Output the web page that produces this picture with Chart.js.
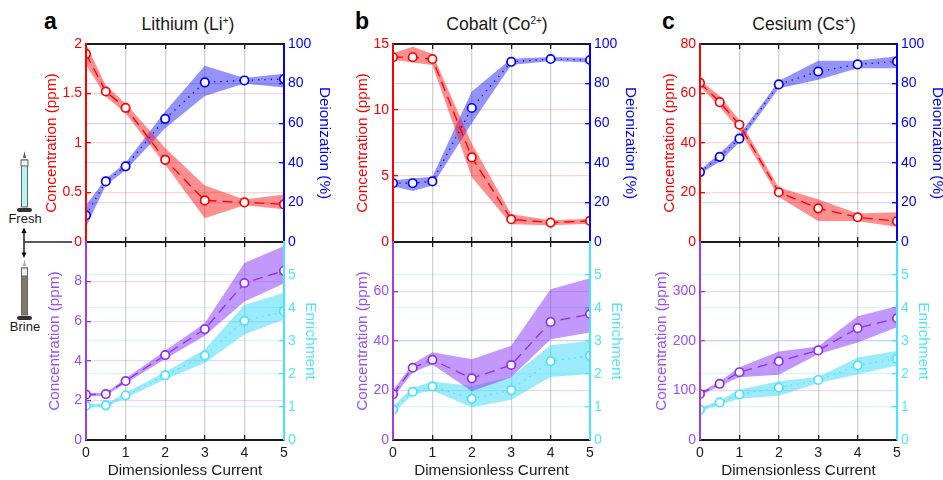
<!DOCTYPE html>
<html>
<head>
<meta charset="utf-8">
<script src="https://cdn.jsdelivr.net/npm/chart.js@4"></script>
<style>
  html, body { margin: 0; padding: 0; background: #fff; }
  body { position: relative; width: 943px; height: 480px; overflow: hidden; font-family: "Liberation Sans", Arial, sans-serif; color: #1a1a1a; }
  canvas { position: absolute; }
  .titulo { position: absolute; top: 12px; font-size: 17.6px; line-height: 24px; white-space: nowrap; transform: translateX(-50%); }
  .titulo sup { font-size: 10px; line-height: 0; vertical-align: 6px; }
  .letra { position: absolute; top: 6px; font-size: 23px; line-height: 30px; font-weight: bold; color: #000; }
  .rotulo { position: absolute; font-size: 13px; line-height: 16px; transform: translateX(-50%); }
  svg { position: absolute; left: 0; top: 150px; }
</style>
</head>
<body>
<div class="letra" style="left:44px">a</div>
<div class="letra" style="left:355px">b</div>
<div class="letra" style="left:662px">c</div>
<div class="titulo" style="left:188px">Lithium (Li<sup>+</sup>)</div>
<div class="titulo" style="left:497px">Cobalt (Co<sup>2+</sup>)</div>
<div class="titulo" style="left:804px">Cesium (Cs<sup>+</sup>)</div>
<div class="rotulo" style="left:25px;top:211px">Fresh</div>
<div class="rotulo" style="left:25px;top:319px">Brine</div>

<!-- provetas e setas do lado esquerdo -->
<svg width="80" height="180" viewBox="0 150 80 180">
  <path d="M24.5 151 L23 158 L26 158 Z" fill="#556"/>
  <rect x="21.5" y="160" width="6" height="47" fill="#b8f4f6" stroke="#666" stroke-width="1"/>
  <rect x="21" y="160" width="7" height="6" fill="#eee" stroke="#666" stroke-width="1"/>
  <rect x="17" y="208" width="15" height="4" rx="2" fill="#333"/>
  <path d="M24.5 259 L23 266 L26 266 Z" fill="#aaa"/>
  <rect x="21.5" y="268" width="6" height="47" fill="#827868" stroke="#666" stroke-width="1"/>
  <rect x="21.5" y="268" width="6" height="8" fill="#eee" stroke="#666" stroke-width="1"/>
  <rect x="17" y="316" width="15" height="4" rx="2" fill="#333"/>
  <path d="M24 231 L24 254" stroke="#000" stroke-width="1.3"/>
  <path d="M24 227.5 L21.5 233 L26.5 233 Z M24 258 L21.5 252.5 L26.5 252.5 Z" fill="#000"/>
  <path d="M24.5 242 L72 242" stroke="#222" stroke-width="1.6"/>
</svg>

<canvas id="liSup" width="290" height="266" style="left:43px;top:0"></canvas>
<canvas id="liInf" width="273" height="264" style="left:46px;top:216px"></canvas>
<canvas id="coSup" width="285" height="266" style="left:354px;top:0"></canvas>
<canvas id="coInf" width="271" height="264" style="left:354px;top:216px"></canvas>
<canvas id="csSup" width="285" height="266" style="left:661px;top:0"></canvas>
<canvas id="csInf" width="279" height="264" style="left:653px;top:216px"></canvas>

<script>
const correntes = [0, 0.5, 1, 2, 3, 4, 5];

// Litio
const liConc = [1.90, 1.52, 1.355, 0.83, 0.42, 0.40, 0.38];
const liConcAlto = [2.0, 1.58, 1.40, 0.95, 0.57, 0.43, 0.48];
const liConcBaixo = [1.79, 1.47, 1.30, 0.78, 0.24, 0.37, 0.33];
const liDeion = [13.5, 30.6, 38.2, 62.2, 80.6, 81.6, 82.3];
const liDeionAlto = [18.6, 32, 40, 65.9, 89, 82.8, 85];
const liDeionBaixo = [7.6, 28.7, 36.3, 57.4, 73.8, 80, 78];
const liSalmoura = [2.29, 2.32, 2.98, 4.29, 5.6, 7.93, 8.55];
const liSalmouraAlto = [2.37, 2.39, 3.1, 4.51, 5.9, 8.94, 9.8];
const liSalmouraBaixo = [2.2, 2.24, 2.86, 4.09, 5.27, 7.0, 7.9];
const liEnriq = [1.04, 1.05, 1.35, 1.96, 2.56, 3.61, 3.9];
const liEnriqAlto = [1.09, 1.09, 1.43, 2.06, 2.74, 4.09, 4.46];
const liEnriqBaixo = [0.99, 1.0, 1.27, 1.84, 2.33, 3.2, 3.65];

// Cobalto
const coConc = [14.0, 14.0, 13.86, 6.41, 1.72, 1.47, 1.6];
const coConcAlto = [14.3, 14.8, 14.26, 7.47, 2.1, 1.65, 1.77];
const coConcBaixo = [13.8, 13.6, 13.4, 4.9, 1.34, 1.27, 1.39];
const coDeion = [29.7, 29.7, 30.6, 67.7, 91, 92.4, 91.9];
const coDeionAlto = [31.2, 32.1, 33, 76, 92.6, 93.4, 93];
const coDeionBaixo = [28.2, 25.7, 28.5, 60, 89.4, 91.4, 90.7];
const coSalmoura = [18.5, 29.2, 32.4, 24.9, 30.3, 47.7, 50.9];
const coSalmouraAlto = [20, 30.8, 35.5, 32.6, 38.1, 60.9, 65.4];
const coSalmouraBaixo = [17, 27.4, 30.5, 19.7, 25.4, 40.7, 43.4];
const coEnriq = [0.92, 1.46, 1.62, 1.25, 1.51, 2.39, 2.55];
const coEnriqAlto = [1.04, 1.58, 1.77, 1.64, 1.91, 2.87, 3.0];
const coEnriqBaixo = [0.81, 1.38, 1.5, 0.99, 1.22, 1.91, 2.0];

// Cesio
const csConc = [64.3, 56.5, 47.4, 20.1, 13.6, 10, 8.4];
const csConcAlto = [65.5, 59, 49.3, 22, 17.3, 11.5, 12];
const csConcBaixo = [63, 54.5, 45.3, 18.2, 8.5, 8.5, 6.1];
const csDeion = [35.3, 43, 52.2, 79.6, 86.1, 89.7, 91.2];
const csDeionAlto = [36.3, 44.8, 54, 81.3, 91.6, 91.6, 93.8];
const csDeionBaixo = [34.3, 40.7, 50.2, 77.7, 82, 87.8, 87.7];
const csSalmoura = [93, 113.5, 137, 159, 181, 226, 246];
const csSalmouraAlto = [96.6, 118, 147, 179, 189, 250, 270];
const csSalmouraBaixo = [90, 109, 127, 132, 173, 197, 228];
const csEnriq = [0.92, 1.14, 1.38, 1.59, 1.82, 2.26, 2.46];
const csEnriqAlto = [0.98, 1.2, 1.52, 1.78, 1.91, 2.5, 2.7];
const csEnriqBaixo = [0.87, 1.07, 1.25, 1.34, 1.72, 1.99, 2.26];

const vermelho = { linha: '#ff0000', texto: '#ff0000', grade: 'rgba(255,0,0,0.17)', banda: 'rgba(255,20,20,0.48)', traco: [10, 6] };
const azul = { linha: '#0000ff', texto: '#0000ff', grade: 'rgba(0,0,255,0.17)', banda: 'rgba(40,40,245,0.5)', traco: [1.3, 5] };
const roxo = { linha: '#8f2fef', borda: '#a23ee0', texto: '#9a4dff', grade: 'rgba(140,50,240,0.2)', banda: 'rgba(135,50,250,0.5)', traco: [10, 6] };
const ciano = { linha: '#45e3ff', texto: '#50e5ff', grade: 'rgba(70,225,255,0.25)', banda: 'rgba(55,215,250,0.5)', traco: [1.3, 5] };

Chart.defaults.font.family = '"Liberation Sans", Arial, sans-serif';
Chart.defaults.font.size = 14;

function pontos(valores) {
    return valores.map((v, i) => ({ x: correntes[i], y: v }));
}

function media(valores, cor, eixo) {
    return {
        data: pontos(valores), xAxisID: 'xBaixo', yAxisID: eixo, borderColor: cor.linha, borderWidth: 1.3, borderDash: cor.traco,
        pointRadius: 4.2, pointBorderWidth: 1.7, pointBackgroundColor: '#fff', pointBorderColor: cor.linha, fill: false, tension: 0
    };
}

function limite(valores, cor, eixo, preenche) {
    return {
        data: pontos(valores), xAxisID: 'xBaixo', yAxisID: eixo, borderWidth: 0, pointRadius: 0,
        backgroundColor: cor.banda, fill: preenche ? '+1' : false, tension: 0
    };
}

function eixoY(cor, lado, titulo, maximo, passo, largura, tiraUltimo) {
    return {
        type: 'linear', position: lado, min: 0, max: maximo,
        afterFit: s => { s.width = largura; },
        border: { color: cor.borda || cor.linha, width: 2, z: 2 },
        grid: { color: cor.grade, tickColor: cor.linha, tickLength: -5, lineWidth: 1.3 },
        ticks: {
            stepSize: passo, color: cor.texto, padding: 9, maxRotation: 0, autoSkip: false,
            callback: v => (tiraUltimo && v === maximo) ? '' : v
        },
        title: { display: true, text: titulo, color: cor.texto, font: { size: 15.3 }, padding: 0 }
    };
}

function eixoX(lado, altura, comTexto, comGrade) {
    return {
        type: 'linear', position: lado, min: 0, max: 5,
        afterFit: s => { s.height = altura; },
        border: { color: '#1a1a1a', width: 2, z: 1 },
        grid: { color: 'rgba(0,0,0,0.18)', tickColor: '#1a1a1a', tickLength: -5, lineWidth: 1.3, drawOnChartArea: comGrade },
        ticks: { stepSize: 1, display: comTexto, color: '#1a1a1a', padding: 10, maxRotation: 0 },
        title: { display: comTexto, text: 'Dimensionless Current', color: '#1a1a1a', font: { size: 15.3 }, padding: 0 }
    };
}

function grafico(id, series, corE, corD, escalaE, escalaD, inferior) {
    const datasets = [
        media(series[0], corE, 'yE'), media(series[3], corD, 'yD'),
        limite(series[1], corE, 'yE', true), limite(series[2], corE, 'yE', false),
        limite(series[4], corD, 'yD', true), limite(series[5], corD, 'yD', false)
    ];
    return new Chart(document.getElementById(id), {
        type: 'line',
        data: { datasets: datasets },
        options: {
            responsive: false, animation: false, devicePixelRatio: 1,
            layout: { padding: inferior ? { top: 26 } : { top: 44, bottom: 24 } },
            plugins: { legend: { display: false }, tooltip: { enabled: false } },
            scales: {
                xBaixo: eixoX('bottom', inferior ? 40 : 0, inferior, true),
                xCima: eixoX('top', 0, false, false),
                yE: eixoY(corE, 'left', escalaE.titulo, escalaE.max, escalaE.passo, escalaE.largura, inferior),
                yD: eixoY(corD, 'right', escalaD.titulo, escalaD.max, escalaD.passo, escalaD.largura, inferior)
            }
        }
    });
}

const deionizacao = { titulo: 'Deionization (%)', max: 100, passo: 20, largura: 49 };
const enriquecimento = { titulo: 'Enrichment', max: 6, passo: 1, largura: 35 };
const concTitulo = 'Concentration (ppm)';

grafico('liSup', [liConc, liConcAlto, liConcBaixo, liDeion, liDeionAlto, liDeionBaixo], vermelho, azul,
    { titulo: concTitulo, max: 2, passo: 0.5, largura: 43 }, deionizacao, false);
grafico('liInf', [liSalmoura, liSalmouraAlto, liSalmouraBaixo, liEnriq, liEnriqAlto, liEnriqBaixo], roxo, ciano,
    { titulo: concTitulo, max: 10, passo: 2, largura: 40 }, enriquecimento, true);
grafico('coSup', [coConc, coConcAlto, coConcBaixo, coDeion, coDeionAlto, coDeionBaixo], vermelho, azul,
    { titulo: concTitulo, max: 15, passo: 5, largura: 39 }, deionizacao, false);
grafico('coInf', [coSalmoura, coSalmouraAlto, coSalmouraBaixo, coEnriq, coEnriqAlto, coEnriqBaixo], roxo, ciano,
    { titulo: concTitulo, max: 80, passo: 20, largura: 39 }, enriquecimento, true);
grafico('csSup', [csConc, csConcAlto, csConcBaixo, csDeion, csDeionAlto, csDeionBaixo], vermelho, azul,
    { titulo: concTitulo, max: 80, passo: 20, largura: 39 }, deionizacao, false);
grafico('csInf', [csSalmoura, csSalmouraAlto, csSalmouraBaixo, csEnriq, csEnriqAlto, csEnriqBaixo], roxo, ciano,
    { titulo: concTitulo, max: 400, passo: 100, largura: 47 }, enriquecimento, true);
</script>
</body>
</html>
